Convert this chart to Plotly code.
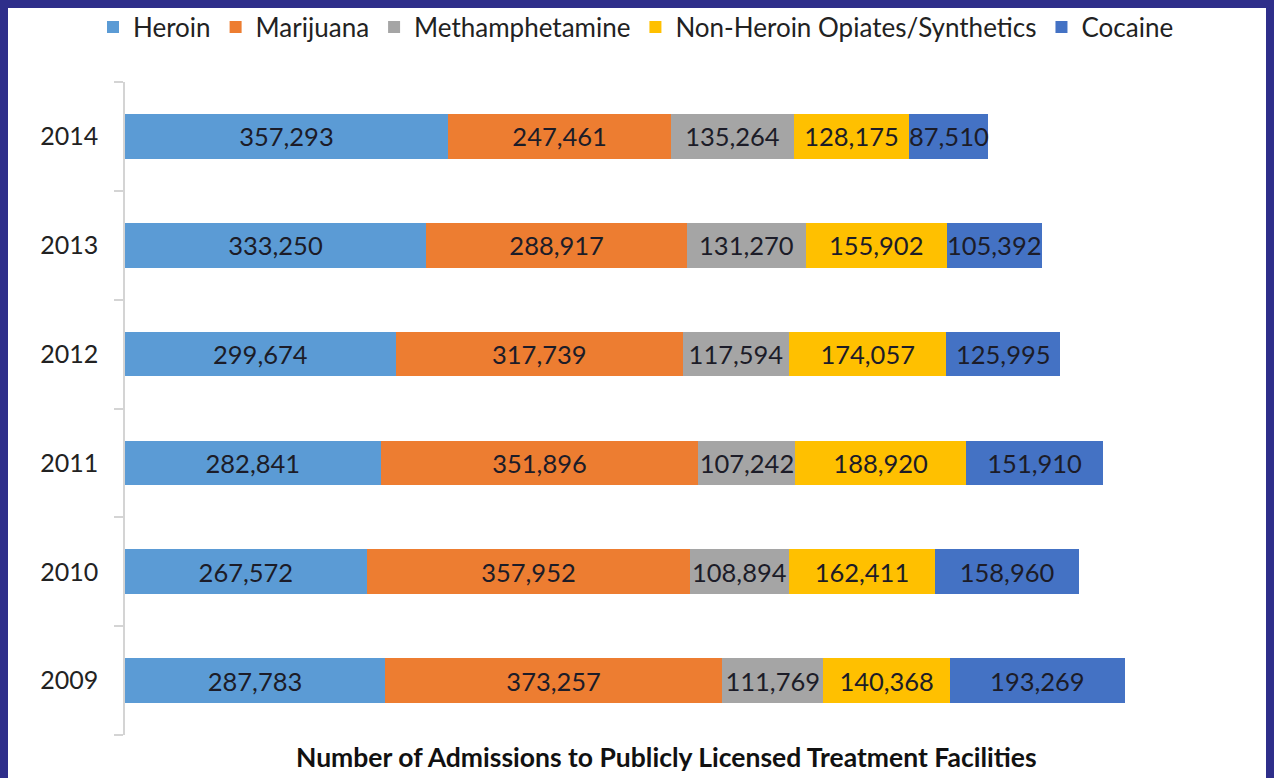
import plotly.graph_objects as go

years = ["2009", "2010", "2011", "2012", "2013", "2014"]
series_names = ["Heroin", "Marijuana", "Methamphetamine", "Non-Heroin Opiates/Synthetics", "Cocaine"]
heroin = [287783, 267572, 282841, 299674, 333250, 357293]
marijuana = [373257, 357952, 351896, 317739, 288917, 247461]
meth = [111769, 108894, 107242, 117594, 131270, 135264]
opiates = [140368, 162411, 188920, 174057, 155902, 128175]
cocaine = [193269, 158960, 151910, 125995, 105392, 87510]
colors = ["#5B9BD5", "#ED7D31", "#A5A5A5", "#FFC000", "#4472C4"]
x_title = "Number of Admissions to Publicly Licensed Treatment Facilities"
FRAME = "#2E2E8A"

FONT = "Lato"
OFF = 8  # default page margin; the frame colour shows through it (top and left)
W, H = 1274, 778 - OFF
L, T, B = 125 - OFF, 82 - OFF, 43
R = W - (1225 - OFF)
PW, PH = W - L - R, H - T - B

def px_x(x):
    return (x - OFF - L) / PW

def px_y(y):
    return (H - B - (y - OFF)) / PH

fig = go.Figure()
for name, vals, col in zip(series_names, [heroin, marijuana, meth, opiates, cocaine], colors):
    fig.add_trace(go.Bar(
        y=years, x=vals, name=name, orientation="h",
        marker=dict(color=col, line=dict(width=0)),
        text=[f"{v:,}" for v in vals],
        textposition="inside", insidetextanchor="middle",
        constraintext="none",
        textfont=dict(family=FONT, size=25.5, color="#1c1c28"),
        hoverinfo="x+name",
    ))

fig.update_layout(
    width=W, height=H,
    barmode="stack", bargap=0.59,
    plot_bgcolor="white", paper_bgcolor="white",
    margin=dict(l=L, r=R, t=T, b=B, autoexpand=False),
    font=dict(family=FONT, color="#222222"),
    legend=dict(
        orientation="h", x=px_x(636), xanchor="center", y=px_y(27), yanchor="middle",
        font=dict(family=FONT, size=26, color="#222222"),
        itemwidth=30, traceorder="normal", bgcolor="rgba(0,0,0,0)",
    ),
    xaxis=dict(range=[0, PW / 0.0009035], visible=False, fixedrange=True),
    yaxis=dict(
        type="category", categoryorder="array", categoryarray=years,
        showline=True, linecolor="#d4d4d4", linewidth=1.5,
        ticks="outside", tickson="boundaries", ticklen=9, tickcolor="#d4d4d4", tickwidth=1.5,
        tickfont=dict(family=FONT, size=25, color="#222222"),
        ticklabelstandoff=20,
        showgrid=False, zeroline=False,
    ),
    annotations=[dict(
        text=f"<b>{x_title}</b>", xref="paper", yref="paper",
        x=px_x(666), y=px_y(757), xanchor="center", yanchor="middle",
        showarrow=False, font=dict(family=FONT, size=26.5, color="#111111"),
    )],
)

fig.write_html(
    "out.html",
    config={"displayModeBar": False},
    post_script=f"document.body.style.background='{FRAME}';document.body.style.overflow='hidden';",
)
